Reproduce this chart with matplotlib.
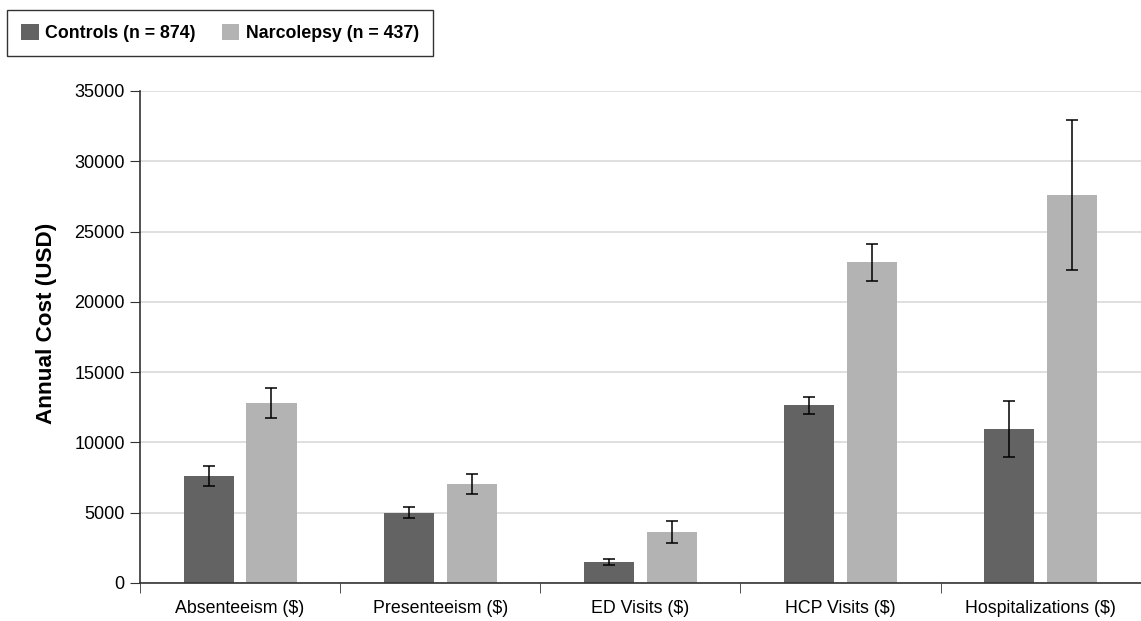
import numpy as np
import matplotlib.pyplot as plt

categories = ["Absenteeism ($)", "Presenteeism ($)", "ED Visits ($)", "HCP Visits ($)", "Hospitalizations ($)"]
controls = [7620, 5000, 1500, 12650, 10970]
controls_err = [690, 390, 230, 600, 2000]
narcolepsy = [12800, 7020, 3630, 22800, 27600]
narcolepsy_err = [1080, 700, 750, 1320, 5350]
series_labels = ["Controls (n = 874)", "Narcolepsy (n = 437)"]

plt.rcParams['font.family'] = ['Liberation Sans', 'DejaVu Sans']

fig = plt.figure(figsize=(11.41, 6.21), dpi=100)
ax = fig.add_axes([0.1227, 0.0612, 0.877, 0.7923])

x = np.arange(len(categories))
w = 0.25
off = 0.157
ax.bar(x - off, controls, w, color="#636363", label=series_labels[0], zorder=2)
ax.bar(x + off, narcolepsy, w, color="#b3b3b3", label=series_labels[1], zorder=2)
ax.errorbar(x - off, controls, yerr=controls_err, fmt="none", ecolor="black",
            elinewidth=1.1, capsize=4.3, capthick=1.1, zorder=3)
ax.errorbar(x + off, narcolepsy, yerr=narcolepsy_err, fmt="none", ecolor="black",
            elinewidth=1.1, capsize=4.3, capthick=1.1, zorder=3)

ax.set_xlim(-0.5, len(categories) - 0.5)
ax.set_ylim(0, 35000)
ax.set_yticks(np.arange(0, 35001, 5000))
ax.yaxis.grid(True, color="#dcdcdc", linewidth=1.3, zorder=0)
ax.set_axisbelow(True)

ax.set_xticks(x)
ax.set_xticklabels(categories, fontsize=12.8)
ax.tick_params(axis="x", length=0, pad=12)
ax.set_xticks(np.arange(-0.5, len(categories), 1), minor=True)
ax.tick_params(axis="x", which="minor", length=7, direction="out", color="#333333")
ax.tick_params(axis="y", length=7, direction="out", color="#333333", labelsize=13, pad=4)

for s in ["top", "right"]:
    ax.spines[s].set_visible(False)
for s in ["left", "bottom"]:
    ax.spines[s].set_color("#333333")
    ax.spines[s].set_linewidth(1.2)

ax.set_ylabel("Annual Cost (USD)", fontsize=16.2, fontweight="bold")
ax.yaxis.set_label_coords(-0.083, 0.528)

leg = fig.legend(loc="upper left", bbox_to_anchor=(7 / 1141, 1 - 10 / 621), ncol=2,
                 prop={"weight": "bold", "size": 12.8}, frameon=True, fancybox=False,
                 handlelength=1.0, handleheight=1.0, handletextpad=0.35,
                 columnspacing=1.45, borderpad=0.8, borderaxespad=0)
leg.get_frame().set_edgecolor("black")
leg.get_frame().set_linewidth(1.0)

fig.savefig("out.png", dpi=100)
